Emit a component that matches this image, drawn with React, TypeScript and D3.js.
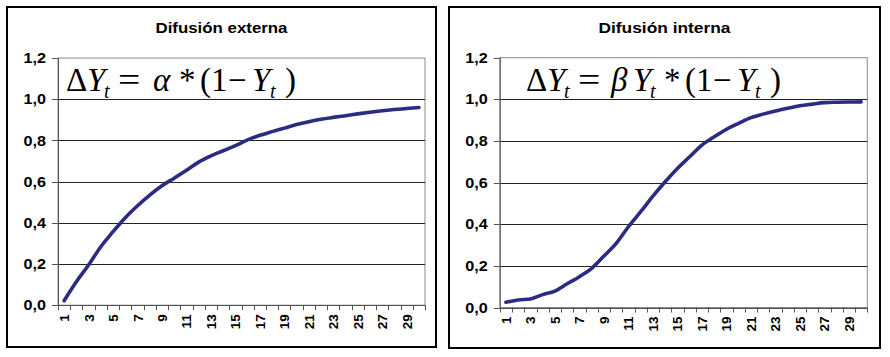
import React from "react";
import * as d3 from "d3";

const categories = [1, 2, 3, 4, 5, 6, 7, 8, 9, 10, 11, 12, 13, 14, 15, 16, 17, 18, 19, 20, 21, 22, 23, 24, 25, 26, 27, 28, 29, 30];

const externalValues = [
  0.022, 0.114, 0.195, 0.284, 0.357, 0.425, 0.483, 0.535, 0.58, 0.617,
  0.655, 0.695, 0.725, 0.75, 0.775, 0.803, 0.825, 0.843, 0.86, 0.877,
  0.891, 0.903, 0.912, 0.92, 0.929, 0.937, 0.944, 0.95, 0.955, 0.96,
];

const internalValues = [
  0.025, 0.036, 0.041, 0.062, 0.079, 0.114, 0.148, 0.188, 0.247, 0.308,
  0.388, 0.46, 0.535, 0.604, 0.668, 0.724, 0.78, 0.82, 0.856, 0.885,
  0.912, 0.929, 0.944, 0.957, 0.969, 0.977, 0.984, 0.986, 0.987, 0.988,
];

const yTicks = [0, 0.2, 0.4, 0.6, 0.8, 1.0, 1.2];
const titles = ["Difusión externa", "Difusión interna"];

const SANS = "'Liberation Sans', Arial, sans-serif";
const SERIF = "'Liberation Serif', 'Times New Roman', serif";
const LINE = "#2c2b82";

type PanelProps = {
  box: [number, number, number, number];
  plot: [number, number, number, number];
  title: string;
  values: number[];
  formula: React.ReactNode;
};

function Panel({ box, plot, title, values, formula }: PanelProps) {
  const [bx0, by0, bx1, by1] = box;
  const [px0, py0, px1, py1] = plot;
  const x = d3.scaleBand<number>().domain(categories).range([px0, px1]).padding(0);
  const y = d3.scaleLinear().domain([0, 1.2]).range([py1, py0]);
  const fmt = (v: number) => d3.format(".1f")(v).replace(".", ",");
  const line = d3
    .line<number>()
    .x((_, i) => (x(categories[i]) as number) + x.bandwidth() / 2)
    .y((d) => y(d))
    .curve(d3.curveMonotoneX);
  const boundaries = categories.map((c) => x(c) as number).concat([px1]);
  return (
    <g>
      <rect x={bx0} y={by0} width={bx1 - bx0} height={by1 - by0} fill="#fff" stroke="#000" strokeWidth={2} />
      <text
        x={(bx0 + bx1) / 2}
        y={by0 + 26}
        textAnchor="middle"
        fontFamily={SANS}
        fontWeight="bold"
        fontSize={15.5}
        textLength={132}
        lengthAdjust="spacingAndGlyphs"
      >
        {title}
      </text>
      <rect x={px0} y={py0} width={px1 - px0} height={py1 - py0} fill="#fff" stroke="#8a8a8a" strokeWidth={1} />
      {yTicks
        .filter((t) => t > 0 && t < 1.2)
        .map((t) => (
          <line key={t} x1={px0} x2={px1} y1={Math.round(y(t)) + 0.5} y2={Math.round(y(t)) + 0.5} stroke="#222" strokeWidth={1} />
        ))}
      <line x1={px0 + 0.5} x2={px0 + 0.5} y1={py0} y2={py1} stroke="#555" strokeWidth={1} />
      <line x1={px0} x2={px1} y1={Math.round(py1) + 0.5} y2={Math.round(py1) + 0.5} stroke="#555" strokeWidth={1} />
      {yTicks.map((t) => (
        <g key={t}>
          <line x1={px0 - 6} x2={px0} y1={Math.round(y(t)) + 0.5} y2={Math.round(y(t)) + 0.5} stroke="#555" />
          <text
            x={px0 - 12}
            y={y(t)}
            dy="0.36em"
            textAnchor="end"
            fontFamily={SANS}
            fontWeight="bold"
            fontSize={14}
            textLength={22.5}
            lengthAdjust="spacingAndGlyphs"
          >
            {fmt(t)}
          </text>
        </g>
      ))}
      {boundaries.map((b, i) => (
        <line key={i} x1={Math.round(b) + 0.5} x2={Math.round(b) + 0.5} y1={py1} y2={py1 + 5} stroke="#555" />
      ))}
      {categories
        .filter((c) => c % 2 === 1)
        .map((c) => {
          const cx = (x(c) as number) + x.bandwidth() / 2;
          const ty = py1 + 9;
          return (
            <text
              key={c}
              transform={`translate(${cx},${ty}) rotate(-90)`}
              dy="0.37em"
              textAnchor="end"
              fontFamily={SANS}
              fontWeight="bold"
              fontSize={13.5}
            >
              {c}
            </text>
          );
        })}
      {formula}
      <path d={line(values) || ""} fill="none" stroke={LINE} strokeWidth={3.6} strokeLinecap="round" strokeLinejoin="round" />
    </g>
  );
}

const FS = 33;
const SUB = 20;

function Eq({ x, y }: { x: number; y: number }) {
  return (
    <text transform={`translate(${x},${y}) scale(1.2,1)`} fontFamily={SERIF} fontSize={FS}>
      =
    </text>
  );
}

function FormulaExt() {
  const by = 90.5;
  return (
    <g fill="#000">
      <text fontFamily={SERIF} fontSize={FS} y={by}>
        <tspan x={66}>Δ</tspan>
        <tspan x={87} fontStyle="italic">Y</tspan>
        <tspan x={104} y={by + 7} fontStyle="italic" fontSize={SUB}>t</tspan>
        <tspan x={153} y={by} fontStyle="italic">α</tspan>
        <tspan x={179}>*</tspan>
        <tspan x={200}>(</tspan>
        <tspan x={211}>1</tspan>
        <tspan x={228}>−</tspan>
        <tspan x={252} fontStyle="italic">Y</tspan>
        <tspan x={270} y={by + 7} fontStyle="italic" fontSize={SUB}>t</tspan>
        <tspan x={285} y={by}>)</tspan>
      </text>
      <Eq x={118} y={by} />
    </g>
  );
}

function FormulaInt() {
  const by = 90.5;
  return (
    <g fill="#000">
      <text fontFamily={SERIF} fontSize={FS} y={by}>
        <tspan x={526}>Δ</tspan>
        <tspan x={547} fontStyle="italic">Y</tspan>
        <tspan x={564} y={by + 7} fontStyle="italic" fontSize={SUB}>t</tspan>
        <tspan x={611} y={by} fontStyle="italic">β</tspan>
        <tspan x={633} fontStyle="italic">Y</tspan>
        <tspan x={650} y={by + 7} fontStyle="italic" fontSize={SUB}>t</tspan>
        <tspan x={664} y={by}>*</tspan>
        <tspan x={685}>(</tspan>
        <tspan x={696}>1</tspan>
        <tspan x={713}>−</tspan>
        <tspan x={737} fontStyle="italic">Y</tspan>
        <tspan x={755} y={by + 7} fontStyle="italic" fontSize={SUB}>t</tspan>
        <tspan x={770} y={by}>)</tspan>
      </text>
      <Eq x={578} y={by} />
    </g>
  );
}

export default function App() {
  return (
    <svg
      width={890}
      height={357}
      viewBox="0 0 890 357"
      style={{ position: "absolute", left: 0, top: 0, background: "#fff" }}
    >
      <rect x={0} y={0} width={890} height={357} fill="#fff" />
      <Panel
        box={[7, 7, 436, 347]}
        plot={[58, 58.1, 425, 305.2]}
        title={titles[0]}
        values={externalValues}
        formula={<FormulaExt />}
      />
      <Panel
        box={[449, 7, 880, 348]}
        plot={[499.8, 57.7, 867.3, 307.5]}
        title={titles[1]}
        values={internalValues}
        formula={<FormulaInt />}
      />
    </svg>
  );
}
